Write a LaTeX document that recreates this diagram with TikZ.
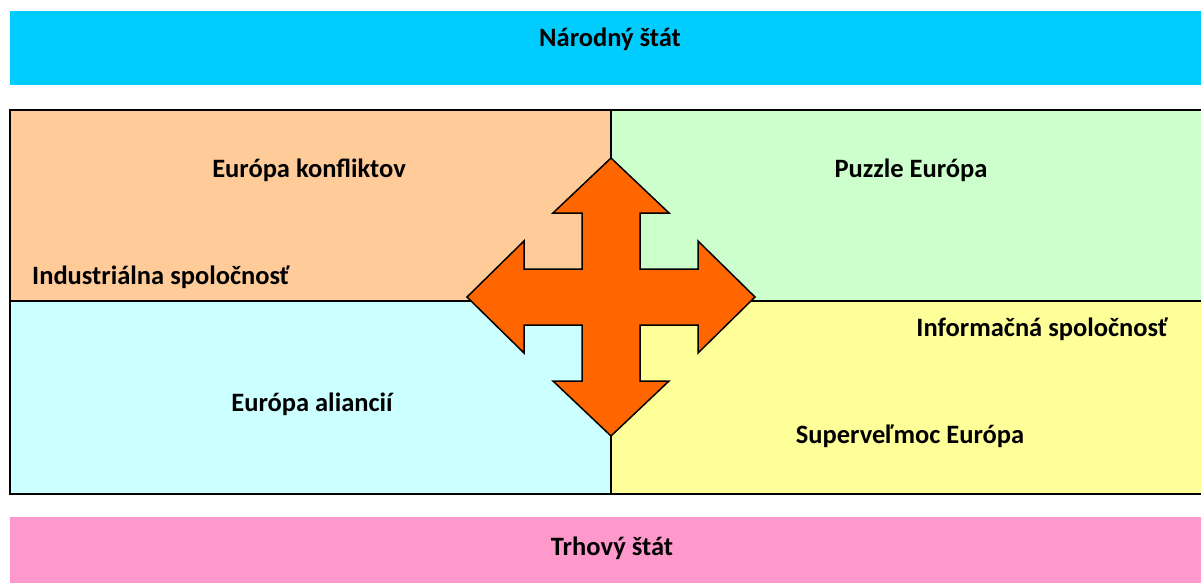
\documentclass[tikz,border=0pt]{standalone}
\usepackage{fontspec}
\setmainfont{Carlito}
\usetikzlibrary{positioning}

\definecolor{barcyan}{HTML}{00CCFF}
\definecolor{barpink}{HTML}{FF99CC}
\definecolor{qpeach}{HTML}{FFCC99}
\definecolor{qgreen}{HTML}{CCFFCC}
\definecolor{qcyan}{HTML}{CCFFFF}
\definecolor{qyellow}{HTML}{FFFF99}
\definecolor{crossorange}{HTML}{FF6600}

\tikzset{
  lbl/.style={font=\fontsize{26.5}{30}\selectfont\bfseries, inner sep=0pt, anchor=base},
  frame/.style={draw=black, line width=2.5pt},
  divider/.style={draw=black, line width=1.5pt},
  cross/.style={fill=crossorange, draw=black, line width=1.5pt, line join=miter}
}

\begin{document}
\begin{tikzpicture}[x=1pt,y=-1pt]
		\useasboundingbox (0,0) rectangle (1201,583);
		%%%%%%%%%%%%%%%%% bars %%%%%%%%%%%%%%%%%%%
		\fill[barcyan] (10,11) rectangle (1210,85);
		\fill[barpink] (10,517) rectangle (1210,590);
		
		%%%%%%%%%%%%%%%%% quadrants %%%%%%%%%%%%%%%
		%  colour/x0/y0/x1/y1
		\foreach \col/\xa/\ya/\xb/\yb in
		{qpeach/10/110/611/301, qgreen/611/110/1210/301,
			qcyan/10/301/611/494, qyellow/611/301/1210/494}
		{\fill[\col] (\xa,\ya) rectangle (\xb,\yb);}
		
		\coordinate (mid) at (611,297);
		\draw[divider] (611,110) -- (611,494);
		\draw[divider] (10,301) -- (1210,301);
		\draw[frame] (1210,110) -- (10,110) -- (10,494) -- (1210,494);
		
		%%%%%%%%%%%%%%%%% cross arrow %%%%%%%%%%%%%
		\draw[cross, shift={(mid)}]
		(0,-139) -- (58,-84) -- (29,-84) -- (29,-28) -- (87,-28) -- (87,-56)
		-- (144,0) -- (87,56) -- (87,28) -- (29,28) -- (29,84) -- (58,84)
		-- (0,139) -- (-58,84) -- (-29,84) -- (-29,28) -- (-87,28) -- (-87,56)
		-- (-144,0) -- (-87,-56) -- (-87,-28) -- (-29,-28) -- (-29,-84) -- (-58,-84)
		-- cycle;
		
		%%%%%%%%%%%%%%%%% labels %%%%%%%%%%%%%%%%%%
		\node[lbl] (narodny) at (610,47) {Národný štát};
		\node[lbl] (trhovy) at (612,555) {Trhový štát};
		\node[lbl] (konflikty) at (309,177) {Európa konfliktov};
		\node[lbl, anchor=base west] (industria) at (32,284) {Industriálna spoločnosť};
		\node[lbl] (puzzle) at (911,177) {Puzzle Európa};
		\node[lbl] (informacia) at (1042,336) {Informačná spoločnosť};
		\node[lbl] (aliancie) at (312,411) {Európa aliancií};
		\node[lbl] (supervelmoc) at (910,443) {Superveľmoc Európa};
\end{tikzpicture}
\end{document}
